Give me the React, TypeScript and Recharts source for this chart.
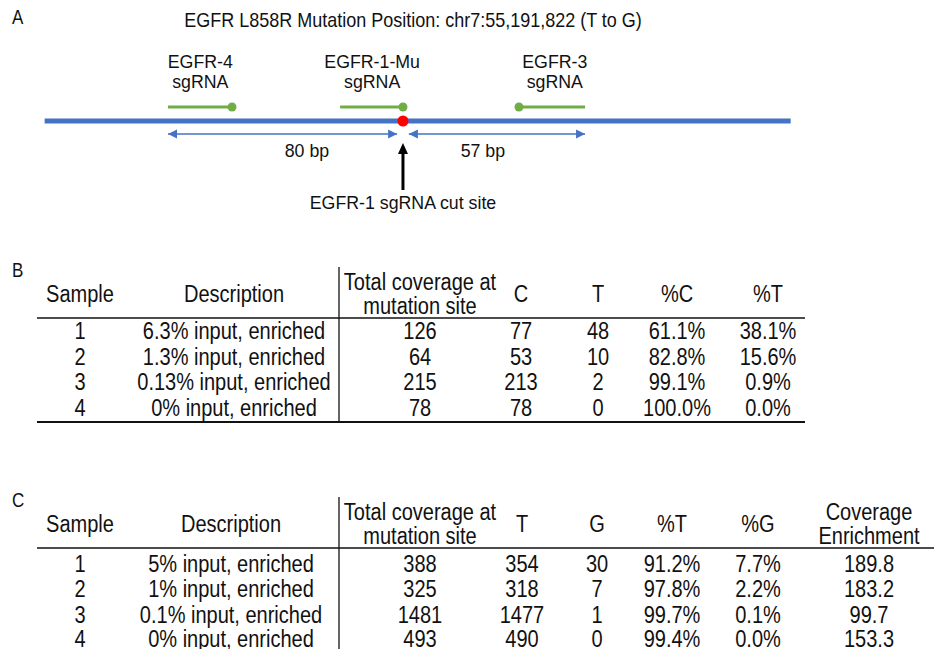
import React from 'react'
import { ComposedChart, Line, Scatter, XAxis, YAxis } from 'recharts'

const FONT = '"Liberation Sans", Arial, Helvetica, sans-serif'
const BLUE = '#4472C4'
const GREEN = '#70AD47'

// panel A: positions in bp relative to the EGFR-1 cut site (as drawn)
const title = 'EGFR L858R Mutation Position: chr7:55,191,822 (T to G)'
const dnaStart = -122
const dnaEnd = 132
const guideNames = ['EGFR-4', 'EGFR-1-Mu', 'EGFR-3']
const guideStart = [-80, -21.4, 39.5]
const guideEnd = [-58.2, 0, 62]
const guidePam = [-58.2, 0, 39.5]
const guideLabelX = [-69, -10.5, 51.7]
const spanLabels = ['80 bp', '57 bp']
const spanFrom = [-80, 2]
const spanTo = [-2, 62]
const spanLabelX = [-32.7, 27.2]
const cutLabel = 'EGFR-1 sgRNA cut site'

// track levels
const GUIDE_Y = 1.4
const DNA_Y = 0
const SPAN_Y = -1.3

// panel B
const headersB = [['Sample'], ['Description'], ['Total coverage at', 'mutation site'], ['C'], ['T'], ['%C'], ['%T']]
const samplesB = ['1', '2', '3', '4']
const descB = ['6.3% input, enriched', '1.3% input, enriched', '0.13% input, enriched', '0% input, enriched']
const coverageB = ['126', '64', '215', '78']
const countCB = ['77', '53', '213', '78']
const countTB = ['48', '10', '2', '0']
const pctCB = ['61.1%', '82.8%', '99.1%', '100.0%']
const pctTB = ['38.1%', '15.6%', '0.9%', '0.0%']

// panel C
const headersC = [['Sample'], ['Description'], ['Total coverage at', 'mutation site'], ['T'], ['G'], ['%T'], ['%G'], ['Coverage', 'Enrichment']]
const samplesC = ['1', '2', '3', '4']
const descC = ['5% input, enriched', '1% input, enriched', '0.1% input, enriched', '0% input, enriched']
const coverageC = ['388', '325', '1481', '493']
const countTC = ['354', '318', '1477', '490']
const countGC = ['30', '7', '1', '0']
const pctTC = ['91.2%', '97.8%', '99.7%', '99.4%']
const pctGC = ['7.7%', '2.2%', '0.1%', '0.0%']
const enrichC = ['189.8', '183.2', '99.7', '153.3']

// narrow text: regular font squeezed horizontally
const NText = ({ x, y, size, sx, anchor = 'middle', children }: any) => (
  <text
    transform={`translate(${x},${y}) scale(${sx},1)`}
    textAnchor={anchor}
    fontSize={size}
    fontFamily={FONT}
    fill="#111"
  >
    {children}
  </text>
)

const Arrowhead = (p: any) => {
  const { cx, cy, payload } = p
  const L = payload.big ? 11 : 9
  const W = payload.big ? 5 : 4.5
  let pts = ''
  if (payload.dir === 'left') pts = `${cx},${cy} ${cx + L},${cy - W} ${cx + L},${cy + W}`
  else if (payload.dir === 'right') pts = `${cx},${cy} ${cx - L},${cy - W} ${cx - L},${cy + W}`
  else pts = `${cx},${cy} ${cx - W},${cy + L} ${cx + W},${cy + L}`
  return <polygon points={pts} fill={payload.big ? '#000' : BLUE} />
}

const TextMark = (p: any) => (
  <NText x={p.cx} y={p.cy} size={18.5} sx={0.96}>{p.payload.label}</NText>
)

const noDot = (p: any) => <g key={'nd' + p.index} />

function Diagram() {
  const pams = guidePam.map(x => ({ x, y: GUIDE_Y }))
  const heads = [
    ...spanFrom.map(x => ({ x, y: SPAN_Y, dir: 'left' })),
    ...spanTo.map(x => ({ x, y: SPAN_Y, dir: 'right' })),
    { x: 0, y: -2.2, dir: 'up', big: true },
  ]
  const labels = [
    ...guideNames.map((n, i) => ({ x: guideLabelX[i], y: 5.3, label: n })),
    ...guideNames.map((_, i) => ({ x: guideLabelX[i], y: 3.3, label: 'sgRNA' })),
    ...spanLabels.map((l, i) => ({ x: spanLabelX[i], y: -3.6, label: l })),
    { x: 0, y: -8.8, label: cutLabel },
  ]
  return (
    <ComposedChart width={934} height={230} margin={{ top: 0, right: 0, bottom: 0, left: 0 }}>
      <XAxis type="number" dataKey="x" domain={[-137.2, 180.8]} allowDataOverflow hide />
      <YAxis type="number" dataKey="y" domain={[-10.9, 12.1]} allowDataOverflow hide />
      <Line
        data={[{ x: dnaStart, y: DNA_Y }, { x: dnaEnd, y: DNA_Y }]}
        dataKey="y" type="linear" stroke={BLUE} strokeWidth={5}
        dot={noDot} activeDot={false} isAnimationActive={false}
      />
      {guideNames.map((n, i) => (
        <Line
          key={n}
          data={[{ x: guideStart[i], y: GUIDE_Y }, { x: guideEnd[i], y: GUIDE_Y }]}
          dataKey="y" type="linear" stroke={GREEN} strokeWidth={3}
          dot={noDot} activeDot={false} isAnimationActive={false}
        />
      ))}
      {spanLabels.map((l, i) => (
        <Line
          key={l}
          data={[{ x: spanFrom[i], y: SPAN_Y }, { x: spanTo[i], y: SPAN_Y }]}
          dataKey="y" type="linear" stroke={BLUE} strokeWidth={1.5}
          dot={noDot} activeDot={false} isAnimationActive={false}
        />
      ))}
      <Line
        data={[{ x: 0, y: -6.9 }, { x: 0, y: -3 }]}
        dataKey="y" type="linear" stroke="#000" strokeWidth={3}
        dot={noDot} activeDot={false} isAnimationActive={false}
      />
      <Scatter
        data={pams} dataKey="y" isAnimationActive={false}
        shape={(p: any) => <circle cx={p.cx} cy={p.cy} r={4.5} fill={GREEN} />}
      />
      <Scatter
        data={[{ x: 0, y: DNA_Y }]} dataKey="y" isAnimationActive={false}
        shape={(p: any) => <circle cx={p.cx} cy={p.cy} r={5.5} fill="#FF0000" />}
      />
      <Scatter data={heads} dataKey="y" isAnimationActive={false} shape={Arrowhead} />
      <Scatter data={labels} dataKey="y" isAnimationActive={false} shape={TextMark} />
    </ComposedChart>
  )
}

interface TableProps {
  headers: string[][]
  cols: string[][]
  centers: number[]
  headTop: number
  rowBase: number[]
  lineTop: number
  headLineY: number
  bottomLineY?: number
  lineRight: number
  vBottom: number
}

const TS = 23
const TSX = 0.87

function Table({ headers, cols, centers, headTop, rowBase, lineTop, headLineY, bottomLineY, lineRight, vBottom }: TableProps) {
  return (
    <g>
      {headers.map((h, i) =>
        h.length === 1 ? (
          <NText key={i} x={centers[i]} y={headTop + 12} size={TS} sx={TSX}>{h[0]}</NText>
        ) : (
          <g key={i}>
            <NText x={centers[i]} y={headTop} size={TS} sx={TSX}>{h[0]}</NText>
            <NText x={centers[i]} y={headTop + 23.5} size={TS} sx={TSX}>{h[1]}</NText>
          </g>
        )
      )}
      {cols.map((col, ci) =>
        col.map((v, ri) => (
          <NText key={ci + '-' + ri} x={centers[ci]} y={rowBase[ri]} size={TS} sx={TSX}>{v}</NText>
        ))
      )}
      <line x1={37} x2={lineRight} y1={headLineY} y2={headLineY} stroke="#111" strokeWidth={1.6} />
      {bottomLineY !== undefined && (
        <line x1={37} x2={lineRight} y1={bottomLineY} y2={bottomLineY} stroke="#111" strokeWidth={2} />
      )}
      <line x1={339} x2={339} y1={lineTop} y2={vBottom} stroke="#111" strokeWidth={1.3} />
    </g>
  )
}

export default function App() {
  return (
    <div style={{ position: 'absolute', left: 0, top: 0, width: 934, height: 649, overflow: 'hidden', background: '#fff' }}>
      <div style={{ position: 'absolute', left: 0, top: 0 }}>
        <Diagram />
      </div>
      <svg width={934} height={649} style={{ position: 'absolute', left: 0, top: 0, pointerEvents: 'none' }}>
        <NText x={12} y={24} size={20} sx={0.85} anchor="start">A</NText>
        <NText x={413} y={27} size={20} sx={0.9}>{title}</NText>
        <NText x={12} y={277} size={20} sx={0.85} anchor="start">B</NText>
        <NText x={12} y={507} size={20} sx={0.85} anchor="start">C</NText>
        <Table
          headers={headersB}
          cols={[samplesB, descB, coverageB, countCB, countTB, pctCB, pctTB]}
          centers={[80, 234, 420, 521, 598, 677, 768]}
          headTop={290}
          rowBase={[339, 365, 390, 416]}
          lineTop={267}
          headLineY={318}
          bottomLineY={422}
          lineRight={805}
          vBottom={422}
        />
        <Table
          headers={headersC}
          cols={[samplesC, descC, coverageC, countTC, countGC, pctTC, pctGC, enrichC]}
          centers={[80, 231, 420, 522, 597, 672, 758, 869]}
          headTop={520}
          rowBase={[572, 597, 623, 647]}
          lineTop={497}
          headLineY={548}
          lineRight={934}
          vBottom={649}
        />
      </svg>
    </div>
  )
}
